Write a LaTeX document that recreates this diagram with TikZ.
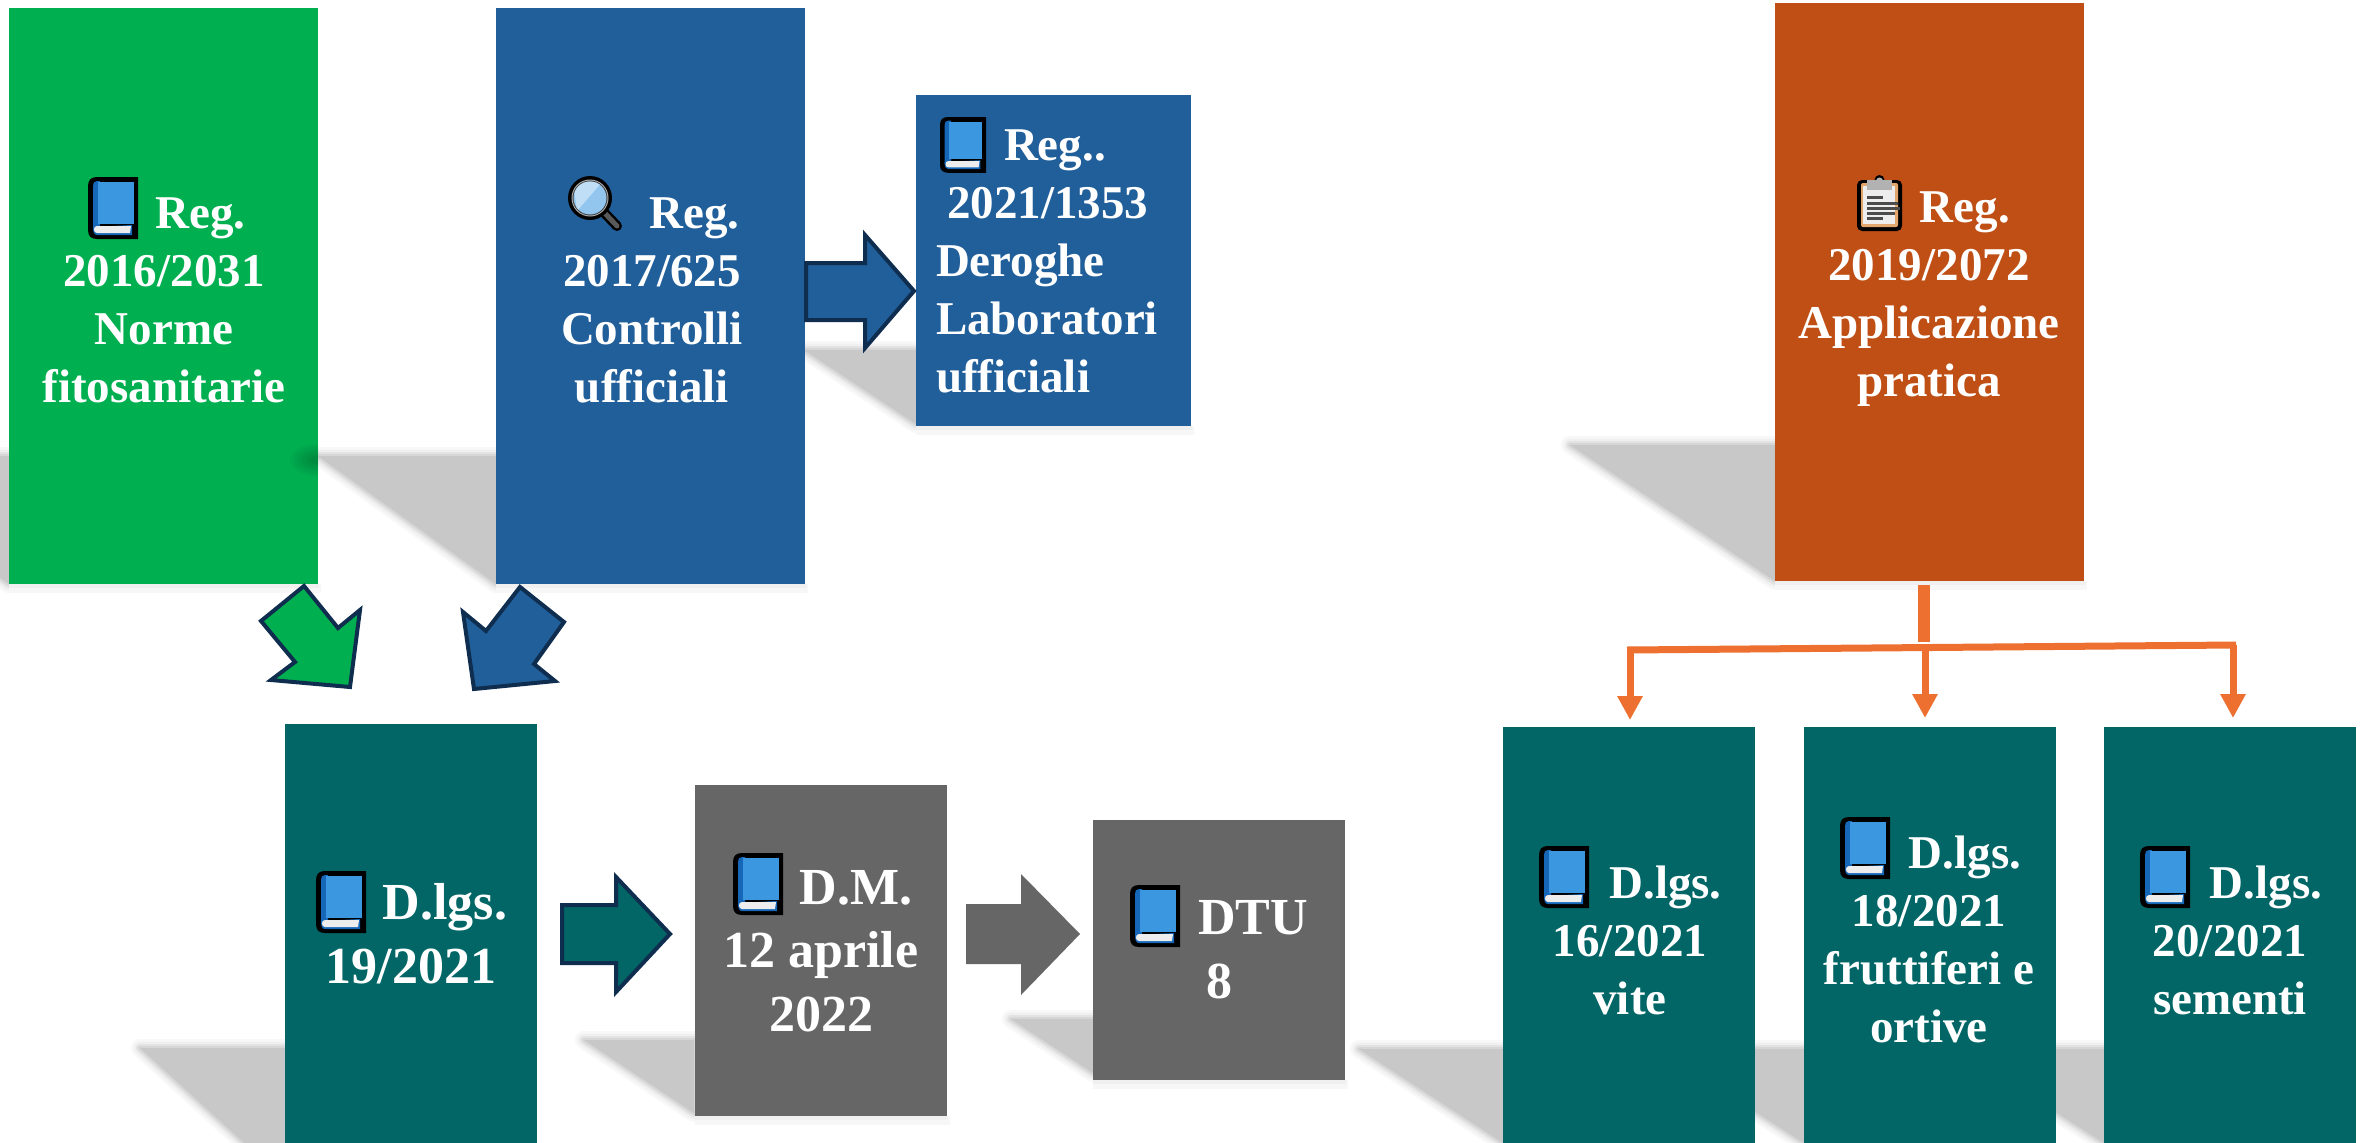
\documentclass[tikz,border=0pt]{standalone}
\usepackage{fontspec}
\setmainfont{Liberation Serif}
\usetikzlibrary{arrows.meta}
\definecolor{cgreen}{HTML}{00B050}
\definecolor{cblue}{HTML}{215F9A}
\definecolor{cteal}{HTML}{026666}
\definecolor{cgrey}{HTML}{666666}
\definecolor{corange}{HTML}{C04F15}
\definecolor{cline}{HTML}{ED7031}
\definecolor{cnavy}{HTML}{0F2E4F}
\definecolor{csh}{HTML}{C8C8C8}
\definecolor{bookblue}{HTML}{3B97E0}
\definecolor{bookdark}{HTML}{1667B8}
\newcommand{\shpoly}[1]{%
  \draw[csh!12,line width=18pt,line join=round] #1;
  \draw[csh!28,line width=13pt,line join=round] #1;
  \draw[csh!50,line width=8pt,line join=round] #1;
  \draw[csh!75,line width=4pt,line join=round] #1;
  \fill[csh] #1;}
\newcommand{\ic}[1]{\hspace*{#1pt}}
\newcommand{\underglow}[1]{%
  \fill[black!3] (#1.south west) rectangle ([xshift=3pt,yshift=-9pt]#1.south east);
  \fill[black!6] (#1.south west) rectangle ([xshift=1pt,yshift=-4pt]#1.south east);}
\tikzset{
  x=1pt,y=-1pt,
  boxn/.style={rectangle,draw=none,inner sep=0pt,outer sep=0pt,anchor=north west},
  txt/.style={text=white,inner sep=0pt,outer sep=0pt,anchor=base,align=center,
    font=\fontsize{47}{58}\selectfont\bfseries},
  txtl/.style={txt,align=left},
  txtb/.style={txt,font=\fontsize{52}{63.5}\selectfont\bfseries},
  blockar/.style={line width=4pt,draw=cnavy,line join=miter},
  wire/.style={draw=cline,line width=7pt},
  wirear/.style={wire,-{Triangle[length=24pt,width=24pt]},shorten >=4pt},
  bookicon/.pic={
    \fill[black] (50,0) -- (9,0) .. controls (3,0) and (0,3) .. (0,9) -- (0,53)
      .. controls (0,59) and (3,62) .. (9,62) -- (50,62) -- cycle;
    \fill[bookdark] (9,4) .. controls (6,4) and (5,6) .. (5,9) -- (5,52) -- (12,52) -- (12,4) -- cycle;
    \fill[bookblue] (10,5) -- (46,5) -- (46,47) -- (10,47) -- cycle;
    \fill[bookdark] (5,50) -- (44,48) -- (44,58) -- (9,58) .. controls (6,58) and (5,55) .. (5,50) -- cycle;
    \fill[white!93!black] (9,49) -- (43,49) -- (42,56) -- (9,56) .. controls (5,56) and (5,49) .. (9,49) -- cycle;
  },
  lensicon/.pic={
    \draw[black,line width=10pt,line cap=round] (26,26) -- (48,49);
    \draw[gray!70!black,line width=5pt,line cap=round] (30,30) -- (48,49);
    \fill[black] (21,21) circle (22);
    \fill[gray!60] (21,21) circle (18.5);
    \fill[black!75] (21,21) circle (17.5);
    \fill[white!45!bookblue] (21,21) circle (16.5);
    \begin{scope}
      \clip (21,21) circle (16.5);
      \fill[white!68!bookblue] (4,4) -- (34,4) -- (8,34) -- cycle;
    \end{scope}
  },
  clipicon/.pic={
    \fill[black,rounded corners=5pt] (0,4) rectangle (45,55);
    \fill[black] (22.5,4) circle (5);
    \fill[brown!70!orange!70!white,rounded corners=2pt] (4,7) rectangle (41,51);
    \fill[white!93!black] (6,10) rectangle (38,48);
    \fill[gray!60] (10,4) rectangle (35,14);
    \fill[gray!60] (22.5,5) circle (3.5);
    \foreach \yy/\xx in {20/18,26/33,31/35,36/30,41/18}{
      \fill[black!70] (10,\yy) rectangle (10+\xx-2,\yy+2.5);
    }
  },
}
\begin{document}
\begin{tikzpicture}
\useasboundingbox (0,0) rectangle (2361,1143);
\fill[white] (0,0) rectangle (2361,1143);
\begin{scope}
\clip (0,0) rectangle (2361,1143);
% shadows
\shpoly{(-170,456) -- (9,456) -- (9,584) -- cycle}
\shpoly{(318,456) -- (496,456) -- (496,584) -- cycle}
\shpoly{(804,350) -- (916,350) -- (916,424) -- cycle}
\shpoly{(1570,445) -- (1775,445) -- (1775,581) -- cycle}
\shpoly{(140,1048) -- (285,1048) -- (285,1180) -- cycle}
\shpoly{(584,1040) -- (694,1040) -- (694,1113) -- cycle}
\shpoly{(1011,1019) -- (1093,1019) -- (1093,1073) -- cycle}
\shpoly{(1359,1049) -- (1503,1049) -- (1503,1143) -- cycle}
\shpoly{(1657,1049) -- (1804,1049) -- (1804,1143) -- cycle}
\shpoly{(1957,1049) -- (2104,1049) -- (2104,1143) -- cycle}
% boxes
\node[boxn,fill=cgreen,minimum width=309pt,minimum height=576pt] (green) at (9,8) {};
\node[boxn,fill=cblue,minimum width=309pt,minimum height=576pt] (blue) at (496,8) {};
\node[boxn,fill=cblue,minimum width=275pt,minimum height=331pt] (bluesm) at (916,95) {};
\node[boxn,fill=corange,minimum width=309pt,minimum height=578pt] (orange) at (1775,3) {};
\node[boxn,fill=cteal,minimum width=252pt,minimum height=440pt] (teala) at (285,724) {};
\node[boxn,fill=cgrey,minimum width=252pt,minimum height=331pt] (greya) at (695,785) {};
\node[boxn,fill=cgrey,minimum width=252pt,minimum height=260pt] (greyb) at (1093,820) {};
\node[boxn,fill=cteal,minimum width=252pt,minimum height=440pt] (tealb) at (1503,727) {};
\node[boxn,fill=cteal,minimum width=252pt,minimum height=440pt] (tealc) at (1804,727) {};
\node[boxn,fill=cteal,minimum width=252pt,minimum height=440pt] (teald) at (2104,727) {};
\underglow{green}
\underglow{blue}
\underglow{bluesm}
\underglow{orange}
\underglow{greya}
\underglow{greyb}
% shade of the neighbouring shadow on the green box
\begin{scope}
\clip (green.north west) rectangle (green.south east);
\foreach \rr in {6,10,14,18,22,26}{
  \fill[black,opacity=.035] (316,460) ellipse ({1.0*\rr} and {.62*\rr});
}
\end{scope}
\end{scope}
% block arrows
\draw[blockar,fill=cgreen] (304,586) -- (261,621) -- (295,662) -- (271,680) -- (350,687) -- (360,610) -- (338,628) -- cycle;
\draw[blockar,fill=cblue] (520,587) -- (564,622) -- (534,664) -- (555,681) -- (474,689) -- (463,612) -- (486,631) -- cycle;
\draw[blockar,fill=cblue] (806,263) -- (865,263) -- (865,235) -- (914,291) -- (865,348) -- (865,320) -- (806,320) -- cycle;
\draw[blockar,fill=cteal] (562,905) -- (616,905) -- (616,877) -- (670,934) -- (616,992) -- (616,963) -- (562,963) -- cycle;
\fill[cgrey] (966,904) -- (1021,904) -- (1021,874) -- (1080,934) -- (1021,995) -- (1021,964) -- (966,964) -- cycle;
% orange connectors
\coordinate (stemb) at (1924,642);
\coordinate (busl) at (1627,650);
\coordinate (busr) at (2236,645);
\coordinate (lefttop) at (1630,650);
\coordinate (midtop) at (1925,648);
\coordinate (righttop) at (2233,645);
\draw[wire,line width=12pt,shorten <=4pt] (orange.south -| stemb) -- (stemb);
\draw[wire] (busl) -- (busr);
\draw[wirear] (lefttop) -- (lefttop |- teala.north);
\draw[wirear,shorten >=9pt] (midtop) -- (midtop |- tealc.north);
\draw[wirear,shorten >=9pt] (righttop) -- (righttop |- teald.north);
% icons
\pic[shift={(88,177)}] {bookicon};
\pic[shift={(569,177)}] {lensicon};
\pic[shift={(940,117)},xscale=.92,yscale=.9] {bookicon};
\pic[shift={(1857,176)}] {clipicon};
\pic[shift={(316,871)}] {bookicon};
\pic[shift={(733,853)}] {bookicon};
\pic[shift={(1130,885)}] {bookicon};
\pic[shift={(1539,846)}] {bookicon};
\pic[shift={(1840,817)}] {bookicon};
\pic[shift={(2140,846)}] {bookicon};
% texts
\node[txt] (tgreen) at (164,402) {\ic{73}Reg.\\2016/2031\\Norme\\fitosanitarie};
\node[txt] (tblue) at (652,402) {\ic{85}Reg.\\2017/625\\Controlli\\ufficiali};
\node[txtl,anchor=base west] (tbluesm) at (936,392) {\ic{68}Reg..\\\ic{11}2021/1353\\Deroghe\\Laboratori\\ufficiali};
\node[txt] (torange) at (1929,396) {\ic{72}Reg.\\2019/2072\\Applicazione\\pratica};
\node[txtb] (tteala) at (411,983) {\ic{68}D.lgs.\\19/2021};
\node[txtb] (tgreya) at (821,1031) {\ic{70}D.M.\\12 aprile\\2022};
\node[txtb] (tgreyb) at (1219,998) {\ic{68}DTU\\8};
\node[txt] (ttealb) at (1630,1014) {\ic{71}D.lgs.\\16/2021\\vite};
\node[txt] (ttealc) at (1929,1042) {\ic{72}D.lgs.\\18/2021\\fruttiferi e\\ortive};
\node[txt] (tteald) at (2230,1014) {\ic{72}D.lgs.\\20/2021\\sementi};
\end{tikzpicture}
\end{document}
